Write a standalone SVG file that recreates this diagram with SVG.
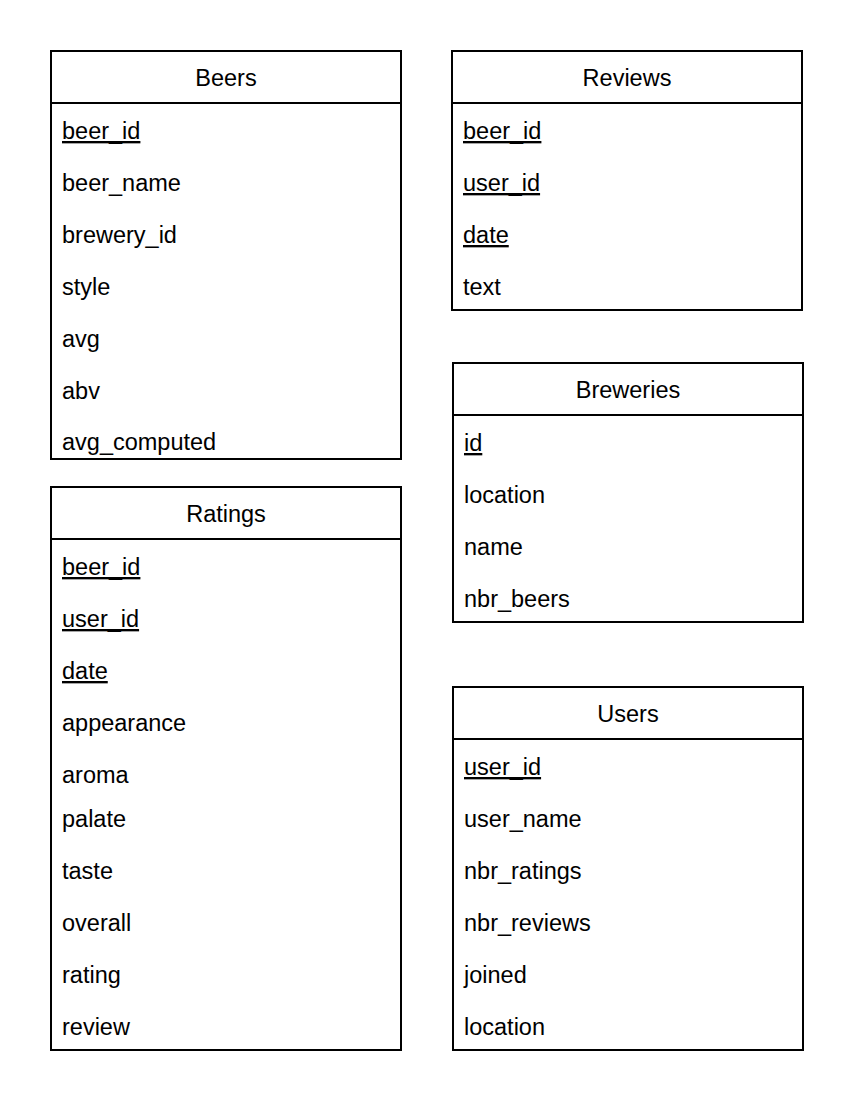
<svg xmlns="http://www.w3.org/2000/svg" width="854" height="1108" viewBox="0 0 854 1108">
<style>
.box{fill:#fff;stroke:#000;stroke-width:2}
.sep{stroke:#000;stroke-width:2}
text{font-family:"Liberation Sans",Arial,Helvetica,sans-serif;font-size:23.5px;fill:#000}
.t{text-anchor:middle}
.k{text-decoration:underline}
</style>
<rect width="854" height="1108" fill="#fff"/>
<g id="beers">
<rect class="box" x="51" y="51" width="350" height="408"/>
<line class="sep" x1="51" y1="103" x2="401" y2="103"/>
<text class="t" x="226" y="86">Beers</text>
<text class="k" x="62" y="139">beer_id</text>
<text x="62" y="191">beer_name</text>
<text x="62" y="243">brewery_id</text>
<text x="62" y="295">style</text>
<text x="62" y="347">avg</text>
<text x="62" y="399">abv</text>
<text x="62" y="450">avg_computed</text>
</g>
<g id="ratings">
<rect class="box" x="51" y="487" width="350" height="563"/>
<line class="sep" x1="51" y1="539" x2="401" y2="539"/>
<text class="t" x="226" y="522">Ratings</text>
<text class="k" x="62" y="575">beer_id</text>
<text class="k" x="62" y="627">user_id</text>
<text class="k" x="62" y="679">date</text>
<text x="62" y="731">appearance</text>
<text x="62" y="783">aroma</text>
<text x="62" y="827">palate</text>
<text x="62" y="879">taste</text>
<text x="62" y="931">overall</text>
<text x="62" y="983">rating</text>
<text x="62" y="1035">review</text>
</g>
<g id="reviews">
<rect class="box" x="452" y="51" width="350" height="259"/>
<line class="sep" x1="452" y1="103" x2="802" y2="103"/>
<text class="t" x="627" y="86">Reviews</text>
<text class="k" x="463" y="139">beer_id</text>
<text class="k" x="463" y="191">user_id</text>
<text class="k" x="463" y="243">date</text>
<text x="463" y="295">text</text>
</g>
<g id="breweries">
<rect class="box" x="453" y="363" width="350" height="259"/>
<line class="sep" x1="453" y1="415" x2="803" y2="415"/>
<text class="t" x="628" y="398">Breweries</text>
<text class="k" x="464" y="451">id</text>
<text x="464" y="503">location</text>
<text x="464" y="555">name</text>
<text x="464" y="607">nbr_beers</text>
</g>
<g id="users">
<rect class="box" x="453" y="687" width="350" height="363"/>
<line class="sep" x1="453" y1="739" x2="803" y2="739"/>
<text class="t" x="628" y="722">Users</text>
<text class="k" x="464" y="775">user_id</text>
<text x="464" y="827">user_name</text>
<text x="464" y="879">nbr_ratings</text>
<text x="464" y="931">nbr_reviews</text>
<text x="464" y="983">joined</text>
<text x="464" y="1035">location</text>
</g>
<g id="connectors"/>
</svg>
